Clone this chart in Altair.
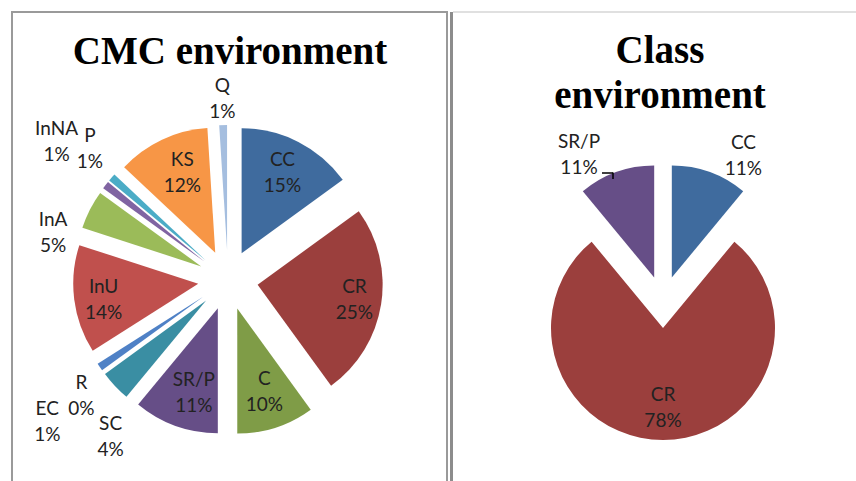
import math
import altair as alt
import pandas as pd

# ---------------- data ----------------
cmc_labels = ["CC", "CR", "C", "SR/P", "SC", "EC", "R", "InU", "InA", "InNA", "P", "KS", "Q"]
cmc_values = [15, 25, 10, 11, 4, 1, 0, 14, 5, 1, 1, 12, 1]
class_labels = ["CC", "CR", "SR/P"]
class_values = [11, 78, 11]

# ---------------- styles ----------------
cmc_colors = {
    "CC": "#3F6B9E", "CR": "#9B3F3D", "C": "#7F9C47", "SR/P": "#664E87",
    "SC": "#3A8EA3", "EC": "#4F81C6", "R": "#D9772E", "InU": "#C0504D",
    "InA": "#9BBB59", "InNA": "#8064A2", "P": "#4BACC6", "KS": "#F79646",
    "Q": "#A5BEDF",
}
class_colors = {"CC": "#3F6B9E", "CR": "#9B3F3D", "SR/P": "#664E87"}

# label placement: (angle nudge in degrees, distance from pie centre in px)
cmc_label_layout = {
    "CC": (0, 120), "CR": (0, 128), "C": (0, 118), "SR/P": (-3, 118),
    "SC": (-10, 196), "EC": (-4, 230), "R": (-6, 187), "InU": (-2, 126),
    "InA": (-12, 181), "InNA": (1, 220), "P": (2, 190), "KS": (2, 116),
    "Q": (0, 181),
}
class_label_layout = {"CC": (9, 167), "CR": (0, 106), "SR/P": (-10, 169)}

LINE_H = 26


def build(labels, values, colors, layout, cx, cy, explode):
    total = float(sum(values))
    cum = 0.0
    rows = []
    for lab, v in zip(labels, values):
        start = cum / total * 2 * math.pi
        end = (cum + v) / total * 2 * math.pi
        mid = (start + end) / 2
        cum += v
        nudge, dist = layout[lab]
        la = mid + math.radians(nudge)
        rows.append(dict(
            label=lab, value=v, txt=f"{lab}\n{v}%",
            start=start, end=end,
            cx=cx + explode * math.sin(mid), cy=cy - explode * math.cos(mid),
            lx=cx + dist * math.sin(la), ly=cy - dist * math.cos(la) - LINE_H / 2,
            color=colors[lab],
        ))
    return pd.DataFrame(rows)


cmc_df = build(cmc_labels, cmc_values, cmc_colors, cmc_label_layout, 228, 280, 30)
class_df = build(class_labels, class_values, class_colors, class_label_layout, 663, 302, 26)


def pie(df, radius):
    arcs = alt.Chart(df).mark_arc(outerRadius=radius).encode(
        x=alt.X("cx:Q", scale=None),
        y=alt.Y("cy:Q", scale=None),
        theta=alt.Theta("start:Q", scale=None),
        theta2=alt.Theta2("end:Q"),
        color=alt.Color("color:N", scale=None),
    )
    texts = alt.Chart(df).mark_text(
        font="Lato", fontSize=19, color="#222222", lineBreak="\n",
        lineHeight=LINE_H, align="center", baseline="middle",
    ).encode(
        x=alt.X("lx:Q", scale=None),
        y=alt.Y("ly:Q", scale=None),
        text="txt:N",
    )
    return arcs + texts


frame_df = pd.DataFrame({"k": [0]})
left_box = alt.Chart(frame_df).mark_rect(fill=None, stroke="#9A9A9A", strokeWidth=2).encode(
    x=alt.value(12), x2=alt.value(447), y=alt.value(12), y2=alt.value(495)
)
right_left = alt.Chart(frame_df).mark_rule(color="#8C8C8C", strokeWidth=3).encode(
    x=alt.value(451.5), y=alt.value(12), y2=alt.value(481)
)
right_top = alt.Chart(frame_df).mark_rule(color="#D6D6D6", strokeWidth=1.5).encode(
    x=alt.value(453), x2=alt.value(856), y=alt.value(12)
)
# small leader line of the SR/P label (right pie)
leader_h = alt.Chart(frame_df).mark_rule(color="#000000", strokeWidth=1.5).encode(
    x=alt.value(602), x2=alt.value(613), y=alt.value(173)
)
leader_v = alt.Chart(frame_df).mark_rule(color="#000000", strokeWidth=1.5).encode(
    x=alt.value(613), y=alt.value(172.5), y2=alt.value(179)
)

title_style = dict(font="Liberation Serif", fontWeight="bold", fontSize=39,
                   color="#000000", align="center", baseline="alphabetic")
title_left = alt.Chart(frame_df).mark_text(**title_style).encode(
    x=alt.value(230), y=alt.value(64), text=alt.value("CMC environment")
)
title_right1 = alt.Chart(frame_df).mark_text(**title_style).encode(
    x=alt.value(660), y=alt.value(63), text=alt.value("Class")
)
title_right2 = alt.Chart(frame_df).mark_text(**title_style).encode(
    x=alt.value(660), y=alt.value(108), text=alt.value("environment")
)

chart = alt.layer(
    left_box, right_left, right_top,
    pie(cmc_df, 125), pie(class_df, 112),
    leader_h, leader_v,
    title_left, title_right1, title_right2,
).properties(
    width=856, height=481, padding=0,
    autosize=alt.AutoSizeParams(type="none"),
    background="#FFFFFF",
).configure_view(stroke=None)

chart.save("out.html", embed_options={"renderer": "svg", "actions": False})
